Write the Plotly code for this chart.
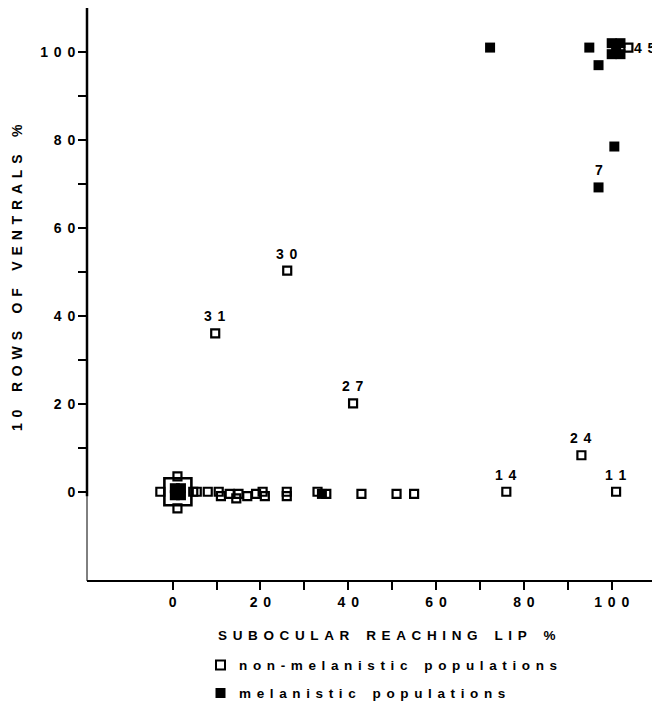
import plotly.graph_objects as go

# ---- data ----
non_mel_x = [5.5, 8.0, 10.5, 11.0, 13.0, 14.5, 15.0, 17.0, 19.0, 20.5, 21.0, 26.0, 26.0,
             33.0, 35.0, 43.0, 51.0, 55.0, 76.0, 101.0, 93.1, 41.1, 26.1, 9.7, 103.8,
             1.1, 1.1, -2.8, 4.7]
non_mel_y = [0.0, 0.0, 0.0, -1.0, -0.5, -1.5, -0.5, -1.0, -0.5, 0.0, -1.0, 0.0, -1.0,
             0.0, -0.5, -0.5, -0.5, -0.5, 0.0, 0.0, 8.3, 20.1, 50.3, 36.0, 101.0,
             3.5, -3.8, 0.0, 0.0]
cluster_x = [1.2]          # large open square at the origin (many populations)
cluster_y = [0.0]

mel_x = [0.5, 1.9, 0.5, 1.9, 34.0, 72.3, 94.9, 97.0, 100.6, 97.0, 100.0, 102.0, 100.0, 102.0, 101.0]
mel_y = [0.8, 0.8, -0.8, -0.8, -0.5, 101.0, 101.0, 97.0, 78.5, 69.2, 102.0, 102.0, 99.5, 99.5, 101.0]

label_text = ["31", "30", "27", "24", "14", "11", "7"]
label_x = [9.7, 26.1, 41.1, 93.1, 76.0, 101.0, 97.0]
label_y = [36.0, 50.3, 20.1, 8.3, 0.0, 0.0, 69.2]
label45_x, label45_y, label45_text = 103.8, 101.0, "45"

x_ticks = list(range(0, 101, 10))
y_ticks = list(range(0, 101, 10))

legend_names = ["non-melanistic populations", "melanistic populations"]
x_title = "SUBOCULAR REACHING LIP %"
y_title = "10 ROWS OF VENTRALS %"

# ---- styling helpers ----
FONT = "Liberation Sans, Arial, Helvetica, sans-serif"
LG = "\u2004\u200a"                 # letter gap (wide tracking like the original)
WG = LG + "\u2002\u2004"            # word gap


def tracked(s):
    return WG.join(LG.join(list(w)) for w in s.split(" "))


x_ticktext = [tracked(str(v)) if v % 20 == 0 else "" for v in x_ticks]
y_ticktext = [tracked(str(v)) if v % 20 == 0 else "" for v in y_ticks]

# the page body has an 8px margin: figure is placed at (8, 8) in the window
OFF = 8
W, H = 660 - OFF, 711 - OFF
ML, MT, MB = 87 - OFF, 8 - OFF, 130
PW, PH = W - ML, H - MT - MB


def px(sx):   # screen x -> paper
    return (sx - OFF - ML) / PW


def py(sy):   # screen y -> paper
    return (OFF + MT + PH - sy) / PH


bold = dict(family=FONT, size=14, color="black", weight="bold")
bold_t = dict(family=FONT, size=13.5, color="black", weight="bold")

fig = go.Figure()
fig.add_trace(go.Scatter(
    x=non_mel_x, y=non_mel_y, mode="markers", name=legend_names[0], showlegend=False,
    marker=dict(symbol="square-open", size=8, color="black", line=dict(width=2.2, color="black")),
))
fig.add_trace(go.Scatter(
    x=cluster_x, y=cluster_y, mode="markers", showlegend=False,
    marker=dict(symbol="square-open", size=27, color="black", line=dict(width=2.6, color="black")),
))
fig.add_trace(go.Scatter(
    x=mel_x, y=mel_y, mode="markers", name=legend_names[1], showlegend=False,
    marker=dict(symbol="square", size=10, color="black", line=dict(width=0)),
))

for t, x, y in zip(label_text, label_x, label_y):
    fig.add_annotation(x=x, y=y, text=tracked(t), showarrow=False, yshift=17, font=bold)
fig.add_annotation(x=label45_x, y=label45_y, text=LG.join(label45_text), showarrow=False,
                   xanchor="left", xshift=4, font=bold)

# axis titles
fig.add_annotation(xref="paper", yref="paper", x=px(387), y=py(635), xanchor="center", yanchor="middle",
                   text=tracked(x_title), showarrow=False, font=bold_t)
fig.add_annotation(xref="paper", yref="paper", x=px(17), y=py(278), xanchor="center", yanchor="middle",
                   text=tracked(y_title), showarrow=False, textangle=-90, font=bold)

# legend (symbols + texts)
fig.add_shape(type="rect", xref="paper", yref="paper", x0=px(216), x1=px(225), y0=py(669.5), y1=py(660.5),
              line=dict(color="black", width=2), fillcolor="rgba(0,0,0,0)")
fig.add_shape(type="rect", xref="paper", yref="paper", x0=px(215.5), x1=px(225.5), y0=py(698), y1=py(688),
              line=dict(color="black", width=0), fillcolor="black")
fig.add_annotation(xref="paper", yref="paper", x=px(237), y=py(665), xanchor="left", yanchor="middle",
                   text=tracked(legend_names[0]), showarrow=False, font=bold_t)
fig.add_annotation(xref="paper", yref="paper", x=px(237), y=py(693), xanchor="left", yanchor="middle",
                   text=tracked(legend_names[1]), showarrow=False, font=bold_t)

# axis lines (thick above zero, thin below on the y axis)
fig.add_shape(type="line", xref="paper", yref="y", x0=0, x1=0, y0=-1, y1=110,
              line=dict(color="black", width=2.5))
fig.add_shape(type="line", xref="paper", yref="paper", x0=0, x1=0, y0=0, y1=0.2,
              line=dict(color="black", width=1))
fig.add_shape(type="line", xref="paper", yref="paper", x0=0, x1=1, y0=0, y1=0,
              line=dict(color="black", width=2.2))

axis_common = dict(showgrid=False, zeroline=False, showline=False, ticks="outside",
                   ticklen=8, tickwidth=2, tickcolor="black", tickfont=bold)
fig.update_xaxes(range=[-19.5, 111], tickvals=x_ticks, ticktext=x_ticktext, **axis_common)
fig.update_yaxes(range=[-20.3, 110], tickvals=y_ticks, ticktext=y_ticktext, **axis_common)

fig.update_layout(
    width=W, height=H, margin=dict(l=ML, r=0, t=MT, b=MB, pad=0),
    paper_bgcolor="white", plot_bgcolor="white", showlegend=False,
)

fig.write_html("out.html")
